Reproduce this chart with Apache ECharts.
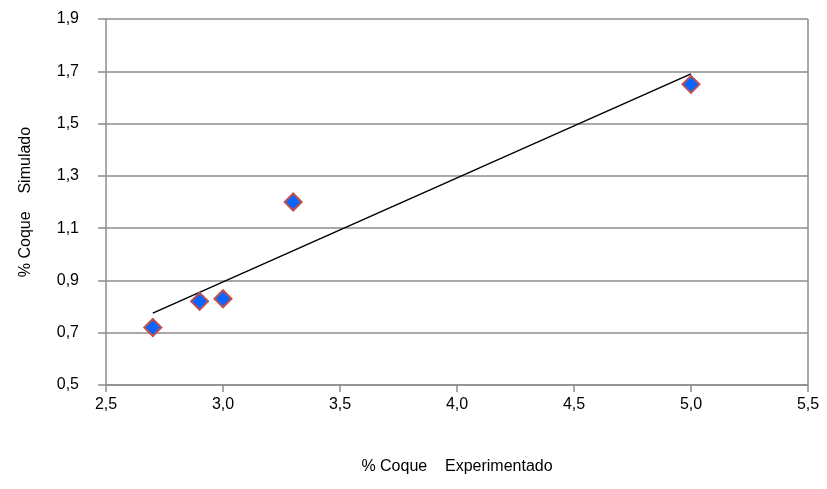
<!DOCTYPE html>
<html>
<head>
<meta charset="utf-8">
<script src="https://cdn.jsdelivr.net/npm/echarts@6/dist/echarts.min.js"></script>
<style>
html,body{margin:0;padding:0;background:#fff;}
#chart{width:827px;height:489px;}
</style>
</head>
<body>
<div id="chart"></div>
<script>
// Data
var expX = [2.7, 2.9, 3.0, 3.3, 5.0];
var simY = [0.72, 0.82, 0.83, 1.20, 1.65];
var trendX = [2.7, 5.0];
var trendY = [0.775, 1.69];
var xAxisTitle = '% Coque    Experimentado';
var yAxisTitle = '% Coque    Simulado';

var pts = expX.map(function (x, i) { return [x, simY[i]]; });
var trend = trendX.map(function (x, i) { return [x, trendY[i]]; });

var fmt = function (v) { return v.toFixed(1).replace('.', ','); };
var font = 'Liberation Sans, Arial, sans-serif';
var gray = '#8c8c8c';

var chart = echarts.init(document.getElementById('chart'), null, {renderer: 'canvas'});
chart.setOption({
  animation: false,
  backgroundColor: '#fff',
  grid: {left: 106, right: 19, top: 19, bottom: 104, show: false},
  xAxis: {
    type: 'value', min: 2.5, max: 5.5, interval: 0.5,
    name: xAxisTitle, nameLocation: 'middle', nameGap: 74,
    nameTextStyle: {fontFamily: font, fontSize: 16, color: '#000'},
    axisLine: {show: true, lineStyle: {color: gray, width: 1.5}},
    axisTick: {show: true, inside: false, length: 7, lineStyle: {color: gray, width: 1.5}},
    axisLabel: {formatter: fmt, margin: 12, fontFamily: font, fontSize: 16, color: '#000'},
    splitLine: {show: false}
  },
  yAxis: {
    type: 'value', min: 0.5, max: 1.9, interval: 0.2,
    name: yAxisTitle, nameLocation: 'middle', nameGap: 72, nameRotate: 90,
    nameTextStyle: {fontFamily: font, fontSize: 16, color: '#000'},
    axisLine: {show: true, lineStyle: {color: gray, width: 1.5}},
    axisTick: {show: true, inside: false, length: 8, lineStyle: {color: gray, width: 1.5}},
    axisLabel: {formatter: fmt, margin: 27, fontFamily: font, fontSize: 16, color: '#000'},
    splitLine: {show: true, lineStyle: {color: gray, width: 1.5}}
  },
  series: [
    {
      type: 'line', data: trend, showSymbol: false, symbol: 'none',
      lineStyle: {color: '#000', width: 1.5}, z: 2, silent: true
    },
    {
      type: 'scatter', data: pts, symbol: 'diamond', symbolSize: 17,
      itemStyle: {color: '#0a66ff', borderColor: '#c0504d', borderWidth: 2, opacity: 1}, z: 3
    }
  ],
  graphic: [
    {type: 'line', shape: {x1: 808, y1: 19, x2: 808, y2: 385}, style: {stroke: gray, lineWidth: 1.5}}
  ]
});
</script>
</body>
</html>
